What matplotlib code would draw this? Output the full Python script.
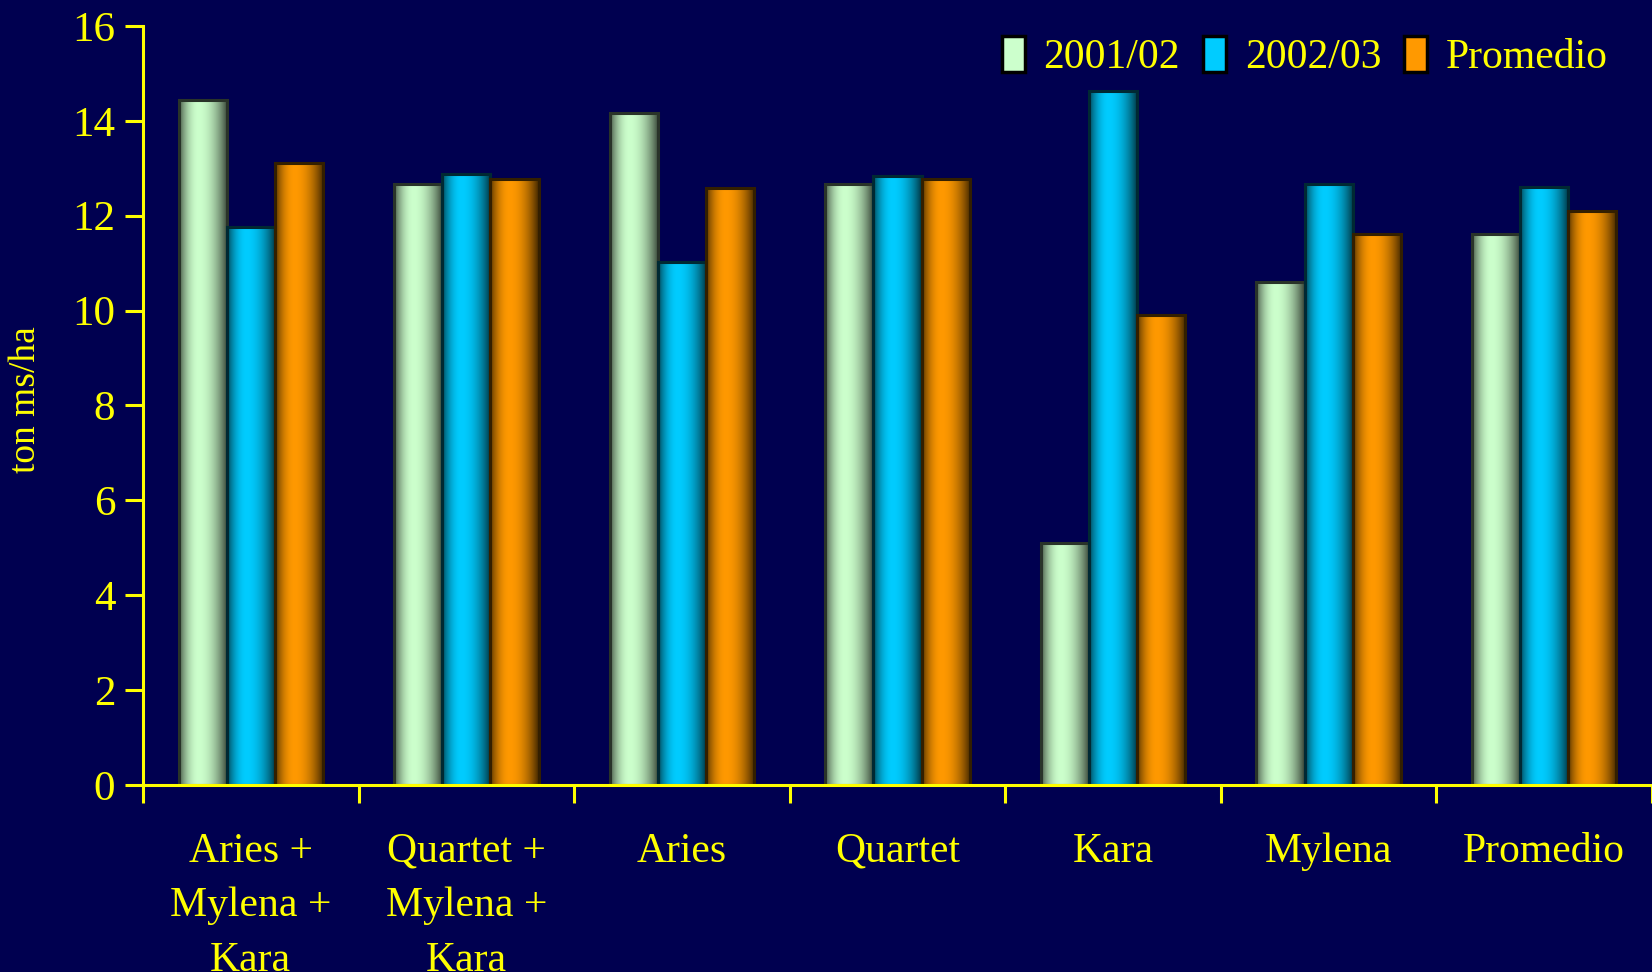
import numpy as np
import matplotlib
matplotlib.use('Agg')
import matplotlib.pyplot as plt
from matplotlib.patches import Rectangle
from matplotlib.colors import to_rgb

categories = ["Aries +\nMylena +\nKara", "Quartet +\nMylena +\nKara", "Aries",
              "Quartet", "Kara", "Mylena", "Promedio"]
series_names = ["2001/02", "2002/03", "Promedio"]
v_2001 = [14.44, 12.67, 14.16, 12.67, 5.11, 10.60, 11.62]
v_2002 = [11.76, 12.89, 11.02, 12.84, 14.64, 12.67, 12.60]
v_prom = [13.11, 12.78, 12.58, 12.78, 9.91, 11.62, 12.11]
y_ticks = [0, 2, 4, 6, 8, 10, 12, 14, 16]

series_values = [v_2001, v_2002, v_prom]
colors = ['#CCFFCC', '#00CCFF', '#FF9900']
BG = '#000050'
YEL = '#FFFF00'
FONT = 'Liberation Serif'

plt.rcParams['font.family'] = [FONT, 'DejaVu Serif']

fig = plt.figure(figsize=(16.52, 9.72), dpi=100, facecolor=BG)
ax = fig.add_axes([143/1652, 1 - 785/972, 1 - 143/1652, (785-26)/972])
ax.set_facecolor(BG)

n = len(categories)
group_w = 0.67
bw = group_w / 3

t = np.linspace(0, 1, 200)
shade = np.where(t < 0.4, 1 - 0.65 * ((0.4 - t) / 0.4) ** 2, 1 - 0.75 * ((t - 0.4) / 0.6) ** 2)

for s, (vals, col) in enumerate(zip(series_values, colors)):
    base = np.array(to_rgb(col))
    grad = (shade[:, None] * base[None, :])[None, :, :]
    edge = tuple(base * 0.2)
    x = np.arange(n) + 0.5 - group_w / 2 + bw * (s + 0.5)
    bars = ax.bar(x, vals, width=bw, color=col, edgecolor=edge, linewidth=2.0,
                  zorder=2, label=series_names[s])
    for b in bars:
        x0, w, h = b.get_x(), b.get_width(), b.get_height()
        im = ax.imshow(grad, extent=[x0, x0 + w, 0, h], aspect='auto',
                       zorder=2.5, interpolation='bilinear')
        im.set_clip_path(b)
        ax.add_patch(Rectangle((x0, 0), w, h, fill=False, edgecolor=edge,
                               linewidth=2.2, zorder=3))

ax.set_xlim(0, (1652 - 142) / 217.5)
ax.set_ylim(0, 16)
ax.set_yticks(y_ticks)
ax.set_yticklabels([str(v) for v in y_ticks])
ax.set_xticks(np.arange(n + 1))
ax.set_xticklabels([])
ax.set_xticks(np.arange(n) + 0.5, minor=True)
ax.set_xticklabels(categories, minor=True, fontsize=30, color=YEL,
                   linespacing=1.55, va='top')
ax.tick_params(axis='x', which='minor', length=0, pad=34)
ax.tick_params(axis='x', which='major', length=13, width=2.2, color=YEL, direction='out')
ax.tick_params(axis='y', length=13, width=2.2, color=YEL, labelsize=31,
               labelcolor=YEL, pad=7)
for side in ['top', 'right']:
    ax.spines[side].set_visible(False)
for side in ['left', 'bottom']:
    ax.spines[side].set_color(YEL)
    ax.spines[side].set_linewidth(2.2)
ax.spines['bottom'].set_zorder(4)

fig.text(26/1652, 1 - 400/972, 'ton ms/ha', rotation=90, fontsize=27, color=YEL,
         ha='center', va='center')

leg = ax.legend(loc='upper right', bbox_to_anchor=(0.99, 1.025), ncol=3, frameon=False,
                fontsize=30, handlelength=0.55, handleheight=0.95, handletextpad=0.45,
                columnspacing=0.55, borderaxespad=0.3)
for txt in leg.get_texts():
    txt.set_color(YEL)
for h in leg.legend_handles:
    h.set_edgecolor('black')
    h.set_linewidth(2.5)

fig.savefig('out.png', dpi=100, facecolor=BG)
